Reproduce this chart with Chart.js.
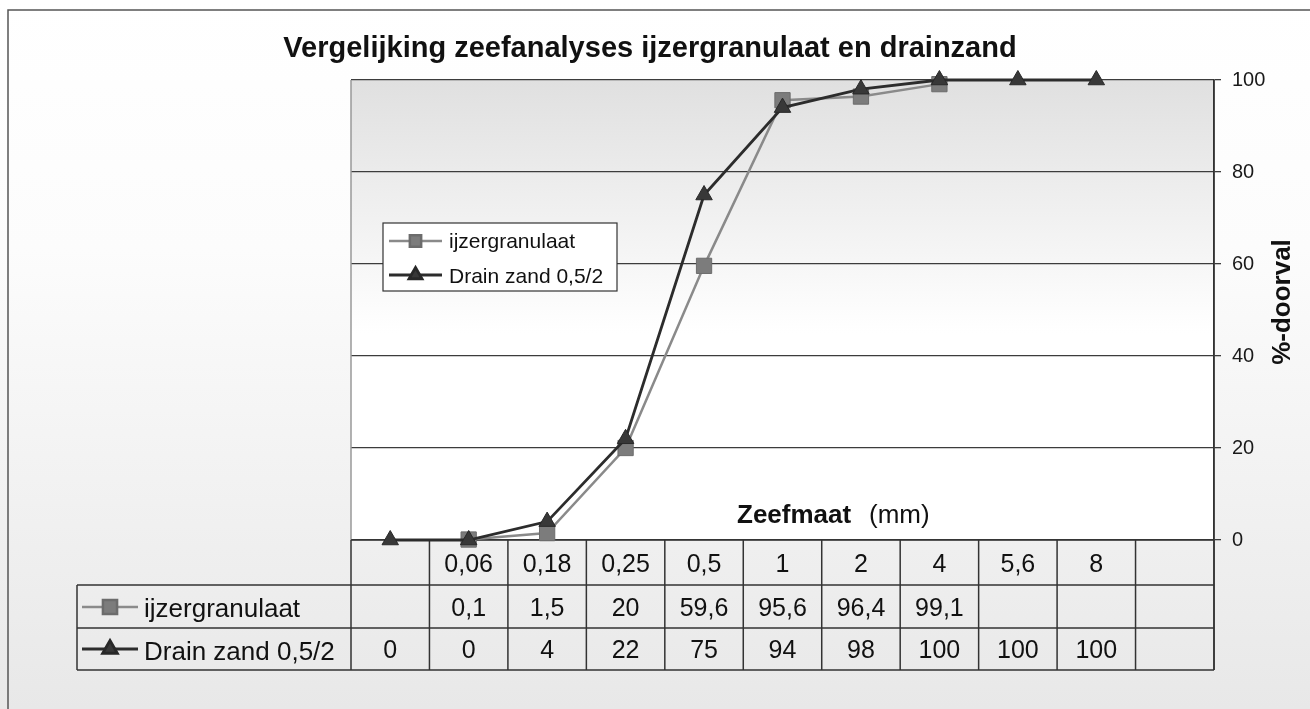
<!DOCTYPE html>
<html><head><meta charset="utf-8">
<script src="https://cdn.jsdelivr.net/npm/chart.js@4.4.0/dist/chart.umd.min.js"></script>
<style>html,body{margin:0;padding:0;background:#fff;overflow:hidden;} #wrap{width:1310px;height:709px;}</style>
</head><body><div id="wrap"><canvas id="c" width="1310" height="709"></canvas></div>
<script>
const categories = ['', '0,06', '0,18', '0,25', '0,5', '1', '2', '4', '5,6', '8', ''];
const ijzergranulaat = [null, 0.1, 1.5, 20, 59.6, 95.6, 96.4, 99.1, null, null, null];
const drainZand = [0, 0, 4, 22, 75, 94, 98, 100, 100, 100, null];
const yTickValues = [0, 20, 40, 60, 80, 100];
const seriesNames = ['ijzergranulaat', 'Drain zand 0,5/2'];
const chartTitle = 'Vergelijking zeefanalyses ijzergranulaat en drainzand';
const xTitleBold = 'Zeefmaat';
const xTitleUnit = '(mm)';
const yTitle = '%-doorval';

const FONT = '"Liberation Sans", Arial, Helvetica, sans-serif';
Chart.defaults.font.family = FONT;

const fmt = v => (v === null || v === undefined) ? '' : String(v).replace('.', ',');

const styles = [
  {line: '#8a8a8a', lw: 2.5, point: 'rect', fill: '#7c7c7c', border: '#6c6c6c', r: 10.8, lr: 8},
  {line: '#2c2c2c', lw: 2.8, point: 'triangle', fill: '#383838', border: '#282828', r: 9.5, lr: 7.5}
];

function drawKey(ctx, x1, x2, y, s, r) {
  ctx.save();
  ctx.strokeStyle = s.line; ctx.lineWidth = s.lw;
  ctx.beginPath(); ctx.moveTo(x1, y); ctx.lineTo(x2, y); ctx.stroke();
  ctx.fillStyle = s.fill; ctx.strokeStyle = s.border;
  Chart.helpers.drawPoint(ctx, {pointStyle: s.point, radius: r, rotation: 0, borderWidth: 1}, (x1 + x2) / 2, y);
  ctx.restore();
}

const decor = {
  id: 'decor',
  beforeDraw(chart) {
    const ctx = chart.ctx, a = chart.chartArea;
    ctx.save();
    let g = ctx.createLinearGradient(0, 0, 0, 709);
    g.addColorStop(0, '#ffffff'); g.addColorStop(0.35, '#fcfcfc'); g.addColorStop(1, '#e8e8e8');
    ctx.fillStyle = g; ctx.fillRect(0, 0, 1310, 709);
    g = ctx.createLinearGradient(0, a.top, 0, a.bottom);
    g.addColorStop(0, '#e0e0e0'); g.addColorStop(0.55, '#ffffff'); g.addColorStop(1, '#ffffff');
    ctx.fillStyle = g; ctx.fillRect(a.left, a.top, a.right - a.left, a.bottom - a.top);
    ctx.strokeStyle = '#555'; ctx.lineWidth = 1.5;
    ctx.strokeRect(8, 10, 1330, 730);
    ctx.restore();
  },
  beforeDatasetsDraw(chart) {
    const ctx = chart.ctx, a = chart.chartArea, xs = chart.scales.x;
    const half = (xs.getPixelForValue(1) - xs.getPixelForValue(0)) / 2;
    const rowTop = a.bottom, r1 = 585, r2 = 628, r3 = 670, labelLeft = 77;
    ctx.save();
    // plot left border
    ctx.strokeStyle = '#999'; ctx.lineWidth = 1.5;
    ctx.beginPath(); ctx.moveTo(a.left, a.top); ctx.lineTo(a.left, a.bottom); ctx.stroke();
    // table grid
    ctx.strokeStyle = '#333'; ctx.lineWidth = 1.5;
    ctx.beginPath();
    ctx.moveTo(a.left, rowTop); ctx.lineTo(a.right, rowTop);
    [r1, r2, r3].forEach(y => { ctx.moveTo(labelLeft, y); ctx.lineTo(a.right, y); });
    ctx.moveTo(labelLeft, r1); ctx.lineTo(labelLeft, r3);
    for (let i = 0; i <= categories.length; i++) {
      const x = i < categories.length ? xs.getPixelForValue(i) - half : xs.getPixelForValue(categories.length - 1) + half;
      ctx.moveTo(x, rowTop); ctx.lineTo(x, r3);
    }
    ctx.stroke();
    // table text
    ctx.fillStyle = '#111'; ctx.font = '25px ' + FONT; ctx.textAlign = 'center'; ctx.textBaseline = 'alphabetic';
    categories.forEach((c, i) => {
      const x = xs.getPixelForValue(i);
      ctx.fillText(c, x, 572);
      ctx.fillText(fmt(ijzergranulaat[i]), x, 616);
      ctx.fillText(fmt(drainZand[i]), x, 658);
    });
    // table row labels
    ctx.textAlign = 'left'; ctx.font = '26px ' + FONT;
    drawKey(ctx, 82, 138, 607, styles[0], 10);
    drawKey(ctx, 82, 138, 649, styles[1], 8.5);
    ctx.fillStyle = '#111';
    ctx.fillText(seriesNames[0], 144, 617);
    ctx.fillText(seriesNames[1], 144, 660);
    // legend box
    ctx.fillStyle = '#ffffff'; ctx.fillRect(383, 223, 234, 68);
    ctx.strokeStyle = '#333'; ctx.lineWidth = 1.2; ctx.strokeRect(383, 223, 234, 68);
    drawKey(ctx, 389, 442, 241, styles[0], styles[0].lr);
    drawKey(ctx, 389, 442, 275, styles[1], styles[1].lr);
    ctx.fillStyle = '#111'; ctx.font = '21px ' + FONT;
    ctx.fillText(seriesNames[0], 449, 248);
    ctx.fillText(seriesNames[1], 449, 283);
    // title
    ctx.textAlign = 'center'; ctx.font = 'bold 29px ' + FONT;
    ctx.fillText(chartTitle, 650, 57);
    // x title inside plot
    ctx.textAlign = 'left'; ctx.font = 'bold 26px ' + FONT;
    ctx.fillText(xTitleBold, 737, 523);
    ctx.font = '26px ' + FONT;
    ctx.fillText(xTitleUnit, 869, 523);
    // y title
    ctx.save();
    ctx.translate(1283, 302); ctx.rotate(-Math.PI / 2);
    ctx.textAlign = 'center'; ctx.textBaseline = 'middle'; ctx.font = 'bold 26px ' + FONT;
    ctx.fillText(yTitle, 0, 0);
    ctx.restore();
    // right axis extension through table
    ctx.strokeStyle = '#333'; ctx.lineWidth = 1.5;
    ctx.beginPath(); ctx.moveTo(a.right, a.top); ctx.lineTo(a.right, r3); ctx.stroke();
    ctx.restore();
  }
};

new Chart(document.getElementById('c'), {
  type: 'line',
  data: {
    labels: categories,
    datasets: [
      {label: seriesNames[0], data: ijzergranulaat, borderColor: styles[0].line, borderWidth: styles[0].lw,
       pointStyle: styles[0].point, pointRadius: styles[0].r, pointBackgroundColor: styles[0].fill,
       pointBorderColor: styles[0].border, pointBorderWidth: 1, tension: 0, clip: false, order: 2, spanGaps: false},
      {label: seriesNames[1], data: drainZand, borderColor: styles[1].line, borderWidth: styles[1].lw,
       pointStyle: styles[1].point, pointRadius: styles[1].r, pointBackgroundColor: styles[1].fill,
       pointBorderColor: styles[1].border, pointBorderWidth: 1, tension: 0, clip: false, order: 1, spanGaps: false}
    ]
  },
  options: {
    responsive: false, animation: false, devicePixelRatio: 1,
    layout: {padding: {left: 351, top: 80, right: 0, bottom: 169}},
    plugins: {legend: {display: false}, title: {display: false}, tooltip: {enabled: false}},
    scales: {
      x: {type: 'category', display: false, offset: true},
      y: {
        position: 'right', min: 0, max: 100,
        afterBuildTicks: s => { s.ticks = yTickValues.map(v => ({value: v})); },
        afterFit: s => { s.width = 96; },
        ticks: {color: '#1a1a1a', font: {size: 20, family: FONT}, padding: 11, callback: v => String(v)},
        grid: {color: '#3c3c3c', lineWidth: 1.3, tickLength: 7, drawTicks: true},
        border: {display: true, color: '#333', width: 1.5}
      }
    }
  },
  plugins: [decor]
});
</script>
</body></html>
